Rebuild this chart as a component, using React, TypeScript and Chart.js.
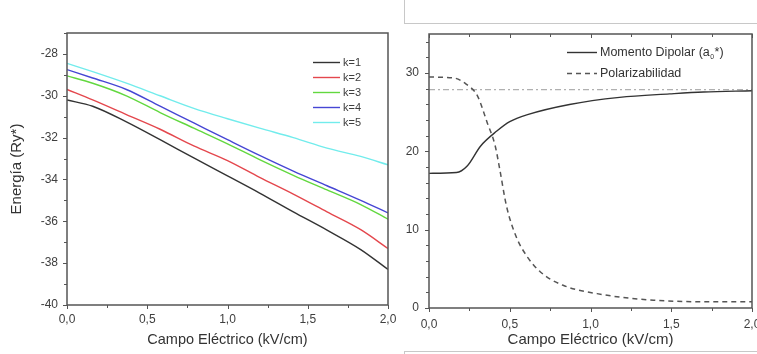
import React, { useEffect, useRef } from "react";
import { Chart, registerables } from "chart.js";

Chart.register(...registerables);

const FONT = "Arial, 'Liberation Sans', Helvetica, sans-serif";

// ---------- Left panel: energy vs electric field ----------
const fieldTitle = "Campo Eléctrico (kV/cm)";
const energyTitle = "Energía (Ry*)";
const fieldTicks = [0, 0.5, 1, 1.5, 2];
const energyTicks = [-40, -38, -36, -34, -32, -30, -28];
const energyX = [0, 0.16, 0.37, 0.58, 0.79, 1.0, 1.2, 1.41, 1.62, 1.83, 2.0];
const energyK1 = [-30.2, -30.5, -31.25, -32.1, -32.97, -33.83, -34.65, -35.55, -36.42, -37.35, -38.3];
const energyK2 = [-29.7, -30.2, -30.9, -31.6, -32.4, -33.1, -33.9, -34.7, -35.55, -36.4, -37.3];
const energyK3 = [-29.05, -29.4, -30.0, -30.8, -31.55, -32.3, -33.05, -33.8, -34.5, -35.2, -35.9];
const energyK4 = [-28.75, -29.15, -29.7, -30.5, -31.3, -32.1, -32.85, -33.6, -34.3, -35.0, -35.6];
const energyK5 = [-28.45, -28.85, -29.4, -30.0, -30.6, -31.1, -31.55, -32.0, -32.5, -32.9, -33.3];
const energySeries = [energyK1, energyK2, energyK3, energyK4, energyK5];
const energyLabels = ["k=1", "k=2", "k=3", "k=4", "k=5"];
const energyColors = ["#333333", "#e4474d", "#62d83f", "#4646d4", "#72ecec"];

// ---------- Right panel: dipole moment & polarizability ----------
const dipoleTicks = [0, 10, 20, 30];
const dipoleLabel = "Momento Dipolar (a₀*)";
const polarLabel = "Polarizabilidad";
const dipoleX = [0, 0.17, 0.235, 0.32, 0.42, 0.5, 0.61, 0.87, 1.18, 1.49, 1.7, 2.0];
const dipoleY = [17.2, 17.3, 18.1, 20.7, 22.6, 23.8, 24.7, 26.0, 26.9, 27.35, 27.6, 27.75];
const polarX = [0, 0.15, 0.23, 0.3, 0.36, 0.41, 0.44, 0.48, 0.54, 0.61, 0.69, 0.83, 1.08, 1.39, 1.7, 2.0];
const polarY = [29.5, 29.4, 28.6, 27.1, 23.7, 20.7, 17.5, 13.0, 9.1, 6.5, 4.6, 2.9, 1.7, 1.0, 0.8, 0.8];
const asymptoteX = [0, 2];
const asymptoteY = [27.9, 27.9];

const fmtComma = (v: any) => Number(v).toFixed(1).replace(".", ",");

const frameTicks = {
  id: "frameTicks",
  afterDraw(chart: any, _a: any, o: any) {
    const { ctx, chartArea: a, scales } = chart;
    const xs = scales.x;
    const ys = scales.y;
    ctx.save();
    const seg = (x1: number, y1: number, x2: number, y2: number) => {
      ctx.beginPath();
      ctx.moveTo(x1, y1);
      ctx.lineTo(x2, y2);
      ctx.stroke();
    };
    ctx.strokeStyle = o.color;
    ctx.lineWidth = 1;
    const isMajor = (v: number, step: number) => Math.abs(v / step - Math.round(v / step)) < 1e-6;
    const nx = Math.round((xs.max - xs.min) / o.xMinor);
    for (let i = 0; i <= nx; i++) {
      const v = xs.min + i * o.xMinor;
      const px = Math.round(xs.getPixelForValue(v)) + 0.5;
      const len = isMajor(v, o.xMajor) ? 4 : 3;
      seg(px, a.bottom, px, a.bottom + len);
      if (o.topTicks) seg(px, a.top, px, a.top + len);
    }
    const ny = Math.round((ys.max - ys.min) / o.yMinor);
    for (let i = 0; i <= ny; i++) {
      const v = ys.min + i * o.yMinor;
      if (v > ys.max + 1e-9) break;
      const py = Math.round(ys.getPixelForValue(v)) + 0.5;
      const len = isMajor(v, o.yMajor) ? 4 : 3;
      seg(a.left, py, a.left - len, py);
    }
    ctx.lineWidth = 1.5;
    ctx.strokeRect(a.left, a.top, a.right - a.left, a.bottom - a.top);
    ctx.restore();
  },
};

const boxLegend = {
  id: "boxLegend",
  afterDraw(chart: any, _a: any, o: any) {
    const ctx = chart.ctx;
    ctx.save();
    o.items.forEach((idx: number, i: number) => {
      const ds = chart.data.datasets[idx];
      const y = o.y + i * o.rowGap + 0.5;
      ctx.strokeStyle = ds.borderColor;
      ctx.lineWidth = ds.borderWidth;
      ctx.setLineDash(ds.borderDash || []);
      ctx.beginPath();
      ctx.moveTo(o.x, y);
      ctx.lineTo(o.x + o.lineLen, y);
      ctx.stroke();
      ctx.setLineDash([]);
      ctx.fillStyle = o.color;
      ctx.textBaseline = "middle";
      ctx.textAlign = "left";
      let tx = o.x + o.lineLen + o.gap;
      const parts = String(ds.label).split("₀");
      parts.forEach((p: string, k: number) => {
        ctx.font = `${o.fontSize}px ${FONT}`;
        ctx.fillText(p, tx, y);
        tx += ctx.measureText(p).width;
        if (k < parts.length - 1) {
          ctx.font = `${o.fontSize * 0.55}px ${FONT}`;
          ctx.fillText("0", tx + 0.5, y + o.fontSize * 0.35);
          tx += ctx.measureText("0").width + 1;
        }
      });
    });
    ctx.restore();
  },
};

const tickFont = { family: FONT, size: 12 };
const textColor = "#3e3e3e";
const frameColor = "#555555";

function energyConfig(): any {
  return {
    type: "line",
    data: {
      datasets: energySeries.map((ys, i) => ({
        label: energyLabels[i],
        data: energyX.map((x, j) => ({ x, y: ys[j] })),
        borderColor: energyColors[i],
        borderWidth: 1.4,
        pointRadius: 0,
        cubicInterpolationMode: "monotone",
        fill: false,
      })),
    },
    options: {
      responsive: false,
      animation: false,
      layout: { padding: { left: 0, top: 33, right: 12, bottom: 0 } },
      plugins: {
        legend: { display: false },
        tooltip: { enabled: false },
        frameTicks: { color: frameColor, xMinor: 0.25, xMajor: 0.5, yMinor: 1, yMajor: 2, topTicks: false },
        boxLegend: { items: [0, 1, 2, 3, 4], x: 313, y: 62, rowGap: 15, lineLen: 27, gap: 3, fontSize: 11, color: textColor },
      },
      scales: {
        x: {
          type: "linear",
          min: 0,
          max: 2,
          grid: { display: false, drawTicks: false },
          border: { display: false },
          afterBuildTicks: (s: any) => { s.ticks = fieldTicks.map((v) => ({ value: v })); },
          ticks: { padding: 7, font: tickFont, color: textColor, maxRotation: 0, callback: fmtComma },
          title: { display: true, text: fieldTitle, color: "#333", font: { family: FONT, size: 14.5 }, padding: { top: 0, bottom: 5 } },
          afterFit: (s: any) => { s.height = 49; s.paddingLeft = 0; s.paddingRight = 0; },
        },
        y: {
          type: "linear",
          min: -40,
          max: -27,
          grid: { display: false, drawTicks: false },
          border: { display: false },
          afterBuildTicks: (s: any) => { s.ticks = energyTicks.map((v) => ({ value: v })); },
          ticks: { padding: 9, font: tickFont, color: textColor },
          title: { display: true, text: energyTitle, color: "#333", font: { family: FONT, size: 15 }, padding: { top: 8, bottom: 0 } },
          afterFit: (s: any) => { s.width = 67; s.paddingTop = 0; s.paddingBottom = 0; },
        },
      },
    },
    plugins: [frameTicks, boxLegend],
  };
}

function dipoleConfig(): any {
  return {
    type: "line",
    data: {
      datasets: [
        {
          label: dipoleLabel,
          data: dipoleX.map((x, j) => ({ x, y: dipoleY[j] })),
          borderColor: "#333333",
          borderWidth: 1.4,
          pointRadius: 0,
          cubicInterpolationMode: "monotone",
          fill: false,
        },
        {
          label: polarLabel,
          data: polarX.map((x, j) => ({ x, y: polarY[j] })),
          borderColor: "#555555",
          borderWidth: 1.5,
          borderDash: [5, 4],
          pointRadius: 0,
          cubicInterpolationMode: "monotone",
          fill: false,
        },
        {
          label: "",
          data: asymptoteX.map((x, j) => ({ x, y: asymptoteY[j] })),
          borderColor: "#b0b0b0",
          borderWidth: 1.2,
          borderDash: [6, 3, 2, 3],
          pointRadius: 0,
          fill: false,
        },
      ],
    },
    options: {
      responsive: false,
      animation: false,
      layout: { padding: { left: 0, top: 34, right: 5, bottom: 0 } },
      plugins: {
        legend: { display: false },
        tooltip: { enabled: false },
        frameTicks: { color: frameColor, xMinor: 0.25, xMajor: 0.5, yMinor: 2, yMajor: 10, topTicks: true },
        boxLegend: { items: [0, 1], x: 167, y: 52, rowGap: 21, lineLen: 30, gap: 3, fontSize: 12.5, color: "#333" },
      },
      scales: {
        x: {
          type: "linear",
          min: 0,
          max: 2,
          grid: { display: false, drawTicks: false },
          border: { display: false },
          afterBuildTicks: (s: any) => { s.ticks = fieldTicks.map((v) => ({ value: v })); },
          ticks: { padding: 9, font: tickFont, color: textColor, maxRotation: 0, callback: fmtComma },
          title: { display: true, text: fieldTitle, color: "#333", font: { family: FONT, size: 15 }, padding: { top: 0, bottom: 5 } },
          afterFit: (s: any) => { s.height = 46; s.paddingLeft = 0; s.paddingRight = 0; },
        },
        y: {
          type: "linear",
          min: 0,
          max: 35,
          grid: { display: false, drawTicks: false },
          border: { display: false },
          afterBuildTicks: (s: any) => { s.ticks = dipoleTicks.map((v) => ({ value: v })); },
          ticks: { padding: 10, font: tickFont, color: textColor },
          afterFit: (s: any) => { s.width = 29; s.paddingTop = 0; s.paddingBottom = 0; },
        },
      },
    },
    plugins: [frameTicks, boxLegend],
  };
}

function ChartCanvas({ make, left, width }: { make: () => any; left: number; width: number }) {
  const ref = useRef<HTMLCanvasElement | null>(null);
  useEffect(() => {
    if (!ref.current) return;
    const chart = new Chart(ref.current, make());
    return () => chart.destroy();
  }, []);
  return (
    <canvas
      ref={ref}
      width={width}
      height={354}
      style={{ position: "absolute", left, top: 0, width, height: 354, display: "block" }}
    />
  );
}

export default function App() {
  return (
    <div style={{ position: "fixed", left: 0, top: 0, width: 757, height: 354, background: "#fff", overflow: "hidden" }}>
      <div style={{ position: "absolute", left: 404, top: -2, width: 400, height: 25, borderLeft: "1px solid #c8c8c8", borderBottom: "1px solid #c8c8c8" }} />
      <div style={{ position: "absolute", left: 404, top: 351, width: 400, height: 20, borderLeft: "1px solid #c8c8c8", borderTop: "1px solid #c8c8c8" }} />
      <ChartCanvas make={energyConfig} left={0} width={400} />
      <ChartCanvas make={dipoleConfig} left={400} width={357} />
    </div>
  );
}
